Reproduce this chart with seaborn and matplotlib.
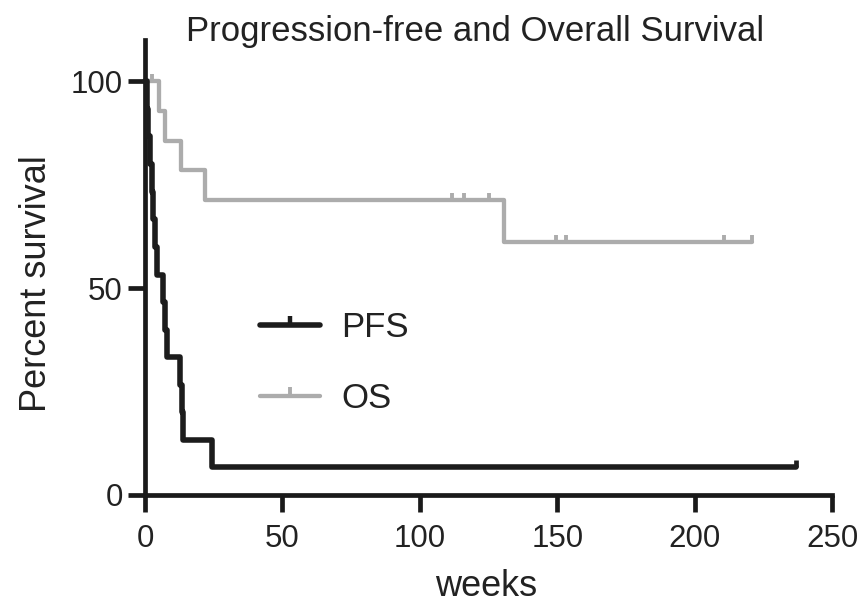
import numpy as np
import pandas as pd
import matplotlib
matplotlib.use("Agg")
import matplotlib.pyplot as plt
from matplotlib.lines import Line2D
from matplotlib.path import Path
import seaborn as sns

# Kaplan-Meier steps (weeks, percent survival)
pfs_weeks = [0, 0.6, 1.2, 1.8, 2.4, 3.0, 3.6, 4.3, 6.7, 7.3, 8.0, 12.8, 13.4, 14.0, 24.3, 237]
pfs_surv = [100, 93.3, 86.7, 80.0, 73.3, 66.7, 60.0, 53.3, 46.7, 40.0, 33.3, 26.7, 20.0, 13.3, 6.7, 6.7]
pfs_cens_weeks = [237]
pfs_cens_surv = [6.7]

os_weeks = [0, 5.0, 7.3, 13.0, 22.0, 130.5, 220.8]
os_surv = [100, 92.9, 85.7, 78.6, 71.4, 61.2, 61.2]
os_cens_weeks = [2.5, 111.6, 116.0, 125.0, 149.6, 153.3, 210.5, 220.8]
os_cens_surv = [100, 71.4, 71.4, 71.4, 61.2, 61.2, 61.2, 61.2]

x_ticks = [0, 50, 100, 150, 200, 250]
y_ticks = [0, 50, 100]

pfs_color = "#1c1c1c"
os_color = "#acacac"
text_color = "#222222"

sns.set_style("ticks")
plt.rcParams["font.family"] = ["Liberation Sans", "DejaVu Sans"]

fig = plt.figure(figsize=(8.66, 6.08), dpi=100)
ax = fig.add_axes([0.1674, 0.186, 0.7935, 0.748])

# tick mark pointing up from the curve (censored cases)
tick = Path([(0, 0), (0, 1)])

pfs = pd.DataFrame({"weeks": pfs_weeks, "surv": pfs_surv})
os_df = pd.DataFrame({"weeks": os_weeks, "surv": os_surv})

sns.lineplot(data=os_df, x="weeks", y="surv", drawstyle="steps-post", estimator=None,
             color=os_color, linewidth=3.1, ax=ax, clip_on=False)
sns.scatterplot(x=os_cens_weeks, y=os_cens_surv, marker=tick, s=110, color=os_color,
                edgecolor=os_color, linewidth=2.8, ax=ax, clip_on=False, zorder=3)
sns.lineplot(data=pfs, x="weeks", y="surv", drawstyle="steps-post", estimator=None,
             color=pfs_color, linewidth=4.0, ax=ax, clip_on=False, zorder=4)
sns.scatterplot(x=pfs_cens_weeks, y=pfs_cens_surv, marker=tick, s=110, color=pfs_color,
                edgecolor=pfs_color, linewidth=3.4, ax=ax, clip_on=False, zorder=5)

ax.set_xlim(0, 250)
ax.set_ylim(0, 110)
ax.set_xticks(x_ticks)
ax.set_yticks(y_ticks)
sns.despine(ax=ax)
for side in ["left", "bottom"]:
    ax.spines[side].set_linewidth(3.4)
    ax.spines[side].set_color("#1a1a1a")
ax.tick_params(axis="both", length=12, width=3.4, color="#1a1a1a",
               labelsize=22.5, labelcolor=text_color)
ax.tick_params(axis="x", pad=9)
ax.tick_params(axis="y", pad=4)

ax.set_xlabel("weeks", fontsize=26, color=text_color)
ax.set_ylabel("Percent survival", fontsize=26, color=text_color)
ax.xaxis.set_label_coords(0.497, -0.162)
ax.yaxis.set_label_coords(-0.132, 0.465)
ax.set_title("Progression-free and Overall Survival", fontsize=25, color=text_color,
             x=0.48, y=0.998, pad=0)

handles = [
    Line2D([0], [0], color=pfs_color, lw=4.0, marker=tick, ms=13, mew=3.2, mec=pfs_color),
    Line2D([0], [0], color=os_color, lw=3.1, marker=tick, ms=13, mew=2.8, mec=os_color),
]
ax.legend(handles, ["PFS", "OS"], loc="center left", bbox_to_anchor=(0.167, 0.29),
          frameon=False, fontsize=25, handlelength=1.75, handletextpad=0.6,
          labelspacing=1.1, borderpad=0, borderaxespad=0, numpoints=1,
          labelcolor=text_color)

fig.savefig("out.png", dpi=100, facecolor="white")
